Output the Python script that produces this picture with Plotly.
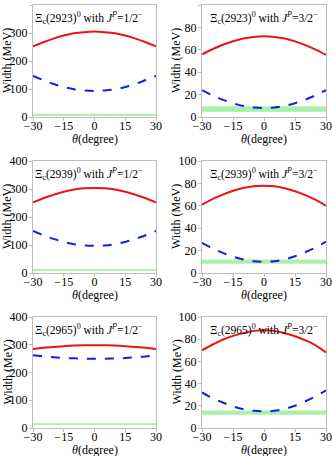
import plotly.graph_objects as go

# mixing angle, degrees
theta = [-30, -25, -20, -15, -10, -5, 0, 5, 10, 15, 20, 25, 30]

states = ["2923", "2939", "2965"]
jp = ["1/2", "3/2"]

# widths (MeV): [state][jp]
red = {
    ("2923", "1/2"): [252, 267, 280, 291, 299, 303, 305, 303, 299, 291, 280, 267, 252],
    ("2923", "3/2"): [56, 60.5, 64.5, 67.7, 70.1, 71.5, 72, 71.5, 70, 67.5, 64.2, 60.2, 55.5],
    ("2939", "1/2"): [252, 267, 279, 290, 298, 302.5, 304, 302.5, 298, 290, 279, 267, 252],
    ("2939", "3/2"): [61, 65.9, 70, 73.4, 75.9, 77.5, 78, 77.4, 75.7, 73, 69.6, 65.3, 60],
    ("2965", "1/2"): [285, 289, 292, 295, 297, 298, 298, 298, 297, 295, 292, 289, 285],
    ("2965", "3/2"): [70, 75, 79.5, 83, 85.5, 87.5, 88, 87.5, 85.4, 82.7, 79, 74.5, 68],
}
blue = {
    ("2923", "1/2"): [147, 132, 118, 107, 99, 95, 93, 95, 99, 107, 118, 132, 147],
    ("2923", "3/2"): [24, 19.4, 15.5, 12.3, 9.9, 8.5, 8, 8.5, 9.9, 12.3, 15.5, 19.4, 24],
    ("2939", "1/2"): [150, 135, 122, 111, 103, 98.5, 97, 98.5, 103, 111, 122, 135, 150],
    ("2939", "3/2"): [27, 22.1, 18, 14.6, 12, 10.5, 10, 10.5, 12.2, 15, 18.5, 22.8, 28],
    ("2965", "1/2"): [262, 258, 255, 252, 251, 250, 250, 250, 251, 252, 255, 258, 262],
    ("2965", "3/2"): [32, 27, 23, 19.5, 17, 15.5, 15, 15.5, 17.3, 20, 24, 28.5, 34],
}
# experimental width band (MeV)
exp_lo = {"2923": 5.1, "2939": 8.8, "2965": 12.5}
exp_hi = {"2923": 9.1, "2939": 11.6, "2965": 15.3}
y_max = {"1/2": 400, "3/2": 100}
y_ticks = {"1/2": [0, 100, 200, 300, 400], "3/2": [0, 20, 40, 60, 80, 100]}
x_ticks = [-30, -15, 0, 15, 30]

W, H = 332, 456
col_px = [(33, 156), (202, 326)]
row_px = [(5, 117), (161, 273), (317, 428)]

FONT = "Liberation Serif, DejaVu Serif, serif"
RED = "rgb(235,20,20)"
BLUE = "rgb(20,30,235)"
GREEN = "rgb(170,240,170)"
FRAME = "rgb(190,190,190)"

fig = go.Figure()
n = 0
for r, st in enumerate(states):
    for c, j in enumerate(jp):
        n += 1
        xa = "x" if n == 1 else f"x{n}"
        ya = "y" if n == 1 else f"y{n}"
        key = (st, j)
        fig.add_trace(go.Scatter(x=[-30, 30], y=[exp_lo[st]] * 2, mode="lines",
                                 line=dict(color=GREEN, width=1), xaxis=xa, yaxis=ya,
                                 showlegend=False, hoverinfo="skip"))
        fig.add_trace(go.Scatter(x=[-30, 30], y=[exp_hi[st]] * 2, mode="lines",
                                 line=dict(color=GREEN, width=1), fill="tonexty",
                                 fillcolor=GREEN, xaxis=xa, yaxis=ya,
                                 showlegend=False, hoverinfo="skip"))
        fig.add_trace(go.Scatter(x=theta, y=blue[key], mode="lines",
                                 line=dict(color=BLUE, width=2, dash="dash", shape="spline"),
                                 xaxis=xa, yaxis=ya, showlegend=False))
        fig.add_trace(go.Scatter(x=theta, y=red[key], mode="lines",
                                 line=dict(color=RED, width=2, shape="spline"),
                                 xaxis=xa, yaxis=ya, showlegend=False))

        x0, x1 = col_px[c]
        t0, t1 = row_px[r]
        axis_common = dict(showline=True, linecolor=FRAME, linewidth=1, mirror=True,
                           showgrid=False, zeroline=False, ticks="outside", ticklen=3,
                           tickcolor=FRAME, automargin=False,
                           tickfont=dict(family=FONT, size=12, color="black"))
        fig.layout[f"xaxis{'' if n == 1 else n}"] = dict(
            axis_common, domain=[x0 / W, x1 / W], range=[-30, 30], anchor=ya,
            tickvals=x_ticks, ticktext=[f"{v}".replace("-", "−") for v in x_ticks],
            ticklabelstandoff=-5)
        fig.layout[f"yaxis{'' if n == 1 else n}"] = dict(
            axis_common, domain=[1 - t1 / H, 1 - t0 / H], range=[0, y_max[j]], anchor=xa,
            tickvals=y_ticks[j], ticklabelstandoff=-1)

        # axis titles
        fig.add_annotation(
            xref="paper", yref="paper", x=(x0 - 26) / W, y=1 - (t0 + t1) / 2 / H,
            xanchor="center", yanchor="middle", textangle=-90, showarrow=False,
            text="Width (MeV)", font=dict(family=FONT, size=12, color="black"))
        fig.add_annotation(
            xref="paper", yref="paper", x=(x0 + x1) / 2 / W, y=1 - (t1 + 22) / H,
            xanchor="center", yanchor="middle", showarrow=False,
            text="<i>θ</i>(degree)", font=dict(family=FONT, size=12, color="black"))
        # panel label
        fig.add_annotation(
            xref=f"{xa} domain", yref=f"{ya} domain", x=0.455 if c == 0 else 0.5, y=0.975,
            xanchor="center", yanchor="top", showarrow=False,
            text=f"Ξ<sub>c</sub>({st})<sup>0</sup> with <i>J</i><sup><i>P</i></sup>={j}<sup>−</sup>",
            font=dict(family=FONT, size=11.5, color="black"))

fig.update_layout(template="none", width=W, height=H, margin=dict(l=0, r=0, t=0, b=0),
                  plot_bgcolor="white", paper_bgcolor="white",
                  font=dict(family=FONT, color="black"))
fig.write_html("out.html", config={"displayModeBar": False},
               post_script="document.body.style.margin='0';")
